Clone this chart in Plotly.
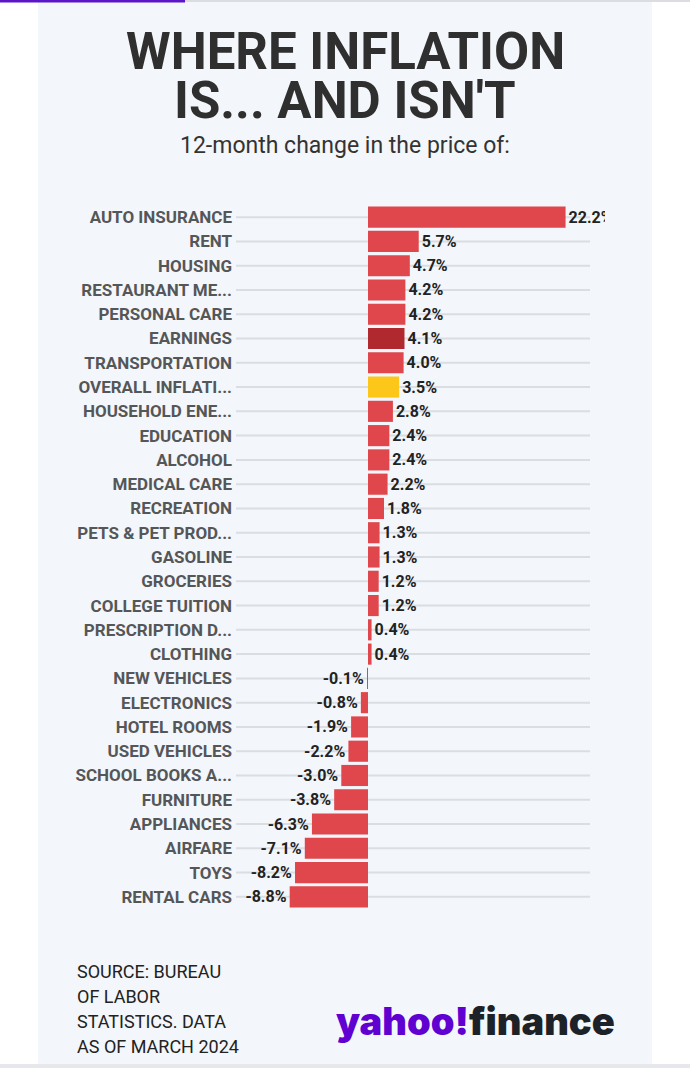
import plotly.graph_objects as go

categories = ["AUTO INSURANCE", "RENT", "HOUSING", "RESTAURANT ME...", "PERSONAL CARE",
              "EARNINGS", "TRANSPORTATION", "OVERALL INFLATI...", "HOUSEHOLD ENE...",
              "EDUCATION", "ALCOHOL", "MEDICAL CARE", "RECREATION", "PETS & PET PROD...",
              "GASOLINE", "GROCERIES", "COLLEGE TUITION", "PRESCRIPTION D...", "CLOTHING",
              "NEW VEHICLES", "ELECTRONICS", "HOTEL ROOMS", "USED VEHICLES",
              "SCHOOL BOOKS A...", "FURNITURE", "APPLIANCES", "AIRFARE", "TOYS", "RENTAL CARS"]
values = [22.2, 5.7, 4.7, 4.2, 4.2, 4.1, 4.0, 3.5, 2.8, 2.4, 2.4, 2.2, 1.8, 1.3, 1.3,
          1.2, 1.2, 0.4, 0.4, -0.1, -0.8, -1.9, -2.2, -3.0, -3.8, -6.3, -7.1, -8.2, -8.8]
highlight = {"EARNINGS": "#b0292e", "OVERALL INFLATI...": "#fdc71a"}
base_color = "#df474c"

title_lines = ["WHERE INFLATION", "IS... AND ISN'T"]
subtitle = "12-month change in the price of:"
source_lines = ["SOURCE: BUREAU", "OF LABOR", "STATISTICS. DATA", "AS OF MARCH 2024"]

W, H = 690, 1073
L, R = 236, 605          # plot area x pixels
T, B = 205, 909          # plot area y pixels
pw, ph = R - L, B - T
scale = 8.9              # px per percentage point
zero_px = 368

FONT = "Roboto, Liberation Sans, sans-serif"


def xp(px):
    return (px - L) / pw


def yp(py):
    return (B - py) / ph


colors = [highlight.get(c, base_color) for c in categories]
texts = [f"{v:.1f}%" for v in values]

fig = go.Figure()
fig.add_trace(go.Bar(
    x=values, y=categories, orientation="h",
    marker=dict(color=colors, line=dict(width=0)),
    text=texts, textposition="outside", constraintext="none", cliponaxis=True,
    textfont=dict(family=FONT, size=16, color="#222222", weight="bold"),
    hoverinfo="skip",
))

shapes = []
# page decorations
shapes.append(dict(type="rect", xref="paper", yref="paper", x0=xp(38), x1=xp(652),
                   y0=yp(1064), y1=yp(2), fillcolor="#f3f6fa", line=dict(width=0), layer="below"))
shapes.append(dict(type="rect", xref="paper", yref="paper", x0=xp(0), x1=xp(690),
                   y0=yp(1068), y1=yp(1064), fillcolor="#e6e8eb", line=dict(width=0), layer="below"))
shapes.append(dict(type="rect", xref="paper", yref="paper", x0=xp(185), x1=xp(690),
                   y0=yp(2), y1=yp(0), fillcolor="#dcdde3", line=dict(width=0), layer="below"))
shapes.append(dict(type="rect", xref="paper", yref="paper", x0=xp(0), x1=xp(185),
                   y0=yp(2.5), y1=yp(0), fillcolor="#5b16c8", line=dict(width=0), layer="below"))
# row guide lines
for c in categories:
    shapes.append(dict(type="line", xref="paper", yref="y", x0=0, x1=xp(590), y0=c, y1=c,
                       line=dict(color="#dadde2", width=2), layer="below"))

annotations = []
for i, line in enumerate(title_lines):
    annotations.append(dict(text=f"<b>{line}</b>", xref="paper", yref="paper",
                            x=xp(345), y=yp(51 + i * 49), xanchor="center", yanchor="middle",
                            height=46, valign="middle", showarrow=False,
                            font=dict(family=FONT, size=51, color="#2f2f2f")))
annotations.append(dict(text=subtitle, xref="paper", yref="paper", x=xp(345), y=yp(145),
                        xanchor="center", yanchor="middle", showarrow=False,
                        font=dict(family=FONT, size=23, color="#333333")))
for i, line in enumerate(source_lines):
    annotations.append(dict(text=line, xref="paper", yref="paper", x=xp(75), y=yp(971 + i * 25),
                            xanchor="left", yanchor="middle", showarrow=False,
                            font=dict(family=FONT, size=18, color="#222222")))
annotations.append(dict(
    text="<span style='color:#6001d2'>yahoo!</span><span style='color:#1d2228'>finance</span>",
    xref="paper", yref="paper", x=xp(475), y=yp(1021), xanchor="center", yanchor="middle",
    showarrow=False, font=dict(family="Inter, Noto Sans, sans-serif", size=38, weight=900)))

fig.update_layout(
    width=W, height=H,
    margin=dict(l=L, r=W - R, t=T, b=H - B, pad=0),
    paper_bgcolor="white", plot_bgcolor="rgba(0,0,0,0)",
    showlegend=False, bargap=0.13,
    shapes=shapes, annotations=annotations,
    xaxis=dict(range=[(L - zero_px) / scale, (R - zero_px) / scale], visible=False,
               showgrid=False, zeroline=False, fixedrange=True),
    yaxis=dict(autorange="reversed", showgrid=False, zeroline=False, showline=False,
               ticks="", ticklabelstandoff=3,
               tickfont=dict(family=FONT, size=17, color="#555658", weight="bold"),
               fixedrange=True),
)

fig.write_html("out.html", config={"displayModeBar": False},
               post_script="document.body.style.margin='0';")
